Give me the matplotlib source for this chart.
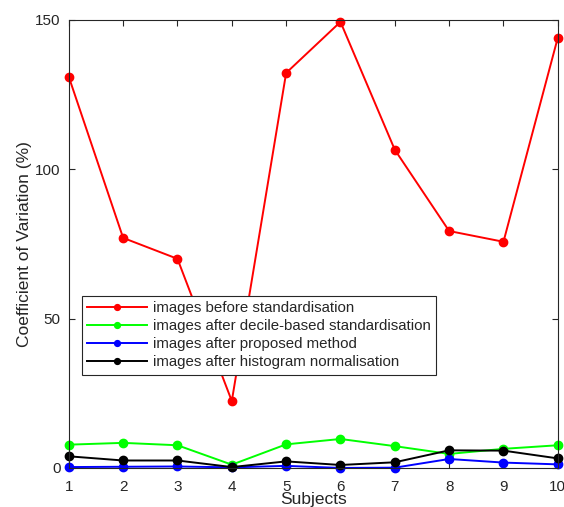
import numpy as np
import matplotlib.pyplot as plt

subjects = np.arange(1, 11)
before_std = [130.9, 77.0, 70.0, 22.4, 132.2, 149.3, 106.5, 79.3, 75.7, 144.0]
after_decile = [7.8, 8.4, 7.6, 1.1, 7.9, 9.7, 7.3, 4.7, 6.4, 7.6]
after_proposed = [0.3, 0.4, 0.5, 0.2, 0.7, 0.0, 0.1, 3.0, 1.8, 1.2]
after_hist = [3.9, 2.5, 2.5, 0.3, 2.2, 1.0, 1.9, 5.9, 5.8, 3.2]

txt = '#262626'
plt.rcParams['font.family'] = ['Arial', 'Liberation Sans', 'DejaVu Sans']

fig = plt.figure(figsize=(5.64, 5.07), dpi=100)
ax = fig.add_axes([0.122, 0.077, 0.867, 0.884])

ax.plot(subjects, before_std, '-o', color='#ff0000', lw=1.4, ms=6,
        label='images before standardisation', clip_on=False)
ax.plot(subjects, after_decile, '-o', color='#00ff00', lw=1.4, ms=6,
        label='images after decile-based standardisation', clip_on=False)
ax.plot(subjects, after_proposed, '-o', color='#0000ff', lw=1.4, ms=6,
        label='images after proposed method', clip_on=False)
ax.plot(subjects, after_hist, '-o', color='#000000', lw=1.4, ms=6,
        label='images after histogram normalisation', clip_on=False)

ax.set_xlim(1, 10)
ax.set_ylim(0, 150)
ax.set_xticks(subjects)
ax.set_yticks([0, 50, 100, 150])
ax.tick_params(direction='in', top=True, right=True, labelsize=11,
               colors=txt, length=4)
ax.tick_params(axis='x', pad=9)
ax.tick_params(axis='y', pad=6)
for s in ax.spines.values():
    s.set_color(txt)
    s.set_linewidth(0.8)

ax.set_xlabel('Subjects', fontsize=12.5, color=txt, labelpad=-2)
ax.set_ylabel('Coefficient of Variation (%)', fontsize=12.5, color=txt, labelpad=2)

leg = ax.legend(loc='lower left', bbox_to_anchor=(0.027, 0.208), fontsize=10.8,
                fancybox=False, framealpha=1, edgecolor=txt, borderpad=0.35,
                labelspacing=0.28, handlelength=4, handletextpad=0.4,
                markerscale=0.7, borderaxespad=0)
leg.get_frame().set_linewidth(0.8)
for t in leg.get_texts():
    t.set_color(txt)

fig.savefig('out.png', dpi=100)
